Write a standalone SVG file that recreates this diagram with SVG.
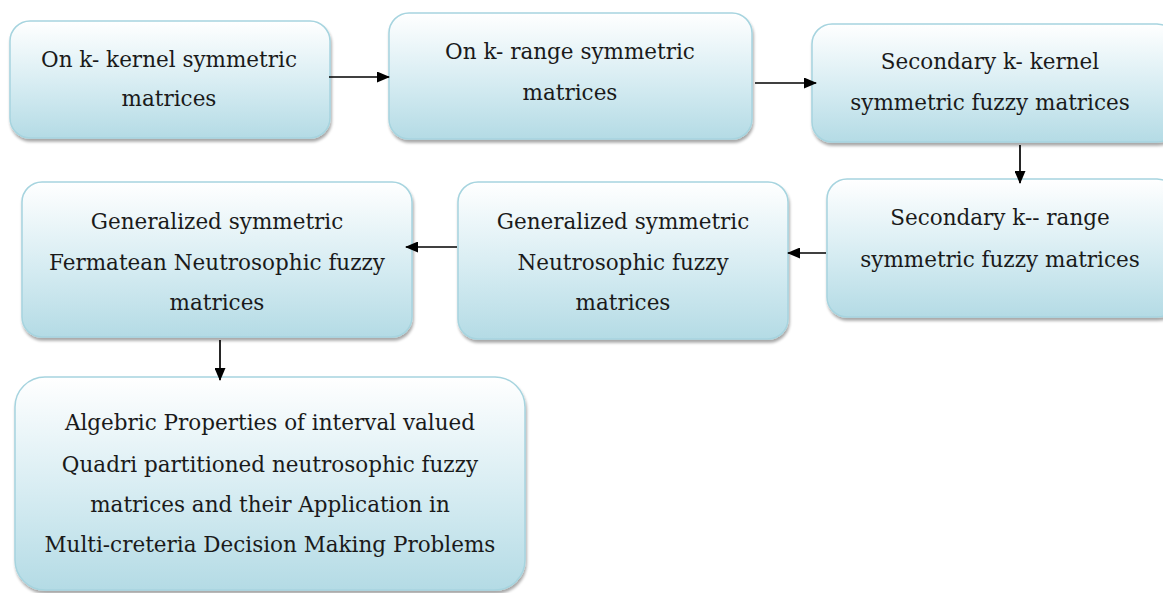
<svg xmlns="http://www.w3.org/2000/svg" width="1163" height="593" viewBox="0 0 1163 593">
<defs>
<linearGradient id="g" x1="0" y1="0" x2="0" y2="1">
<stop offset="0" stop-color="#ffffff"/>
<stop offset="0.55" stop-color="#d6ecf2"/>
<stop offset="1" stop-color="#b4dbe5"/>
</linearGradient>
<filter id="sh" x="-5%" y="-5%" width="115%" height="120%">
<feGaussianBlur in="SourceAlpha" stdDeviation="1.5"/>
<feOffset dx="1" dy="3" result="b"/>
<feComponentTransfer><feFuncA type="linear" slope="0.35"/></feComponentTransfer>
<feMerge><feMergeNode/><feMergeNode in="SourceGraphic"/></feMerge>
</filter>
<marker id="ah" markerWidth="13" markerHeight="11" refX="12" refY="5.5" orient="auto" markerUnits="userSpaceOnUse">
<path d="M0,0 L13,5.5 L0,11 Z" fill="#000"/>
</marker>
</defs>
<style>
.box{fill:url(#g);stroke:#a6d4df;stroke-width:1.5;filter:url(#sh)}
.t{font-family:"DejaVu Serif","Liberation Serif",serif;font-size:21.5px;fill:#1a1a1a;text-anchor:middle}
.c{stroke:#000;stroke-width:1.7;fill:none;marker-end:url(#ah)}
</style>
<rect width="1163" height="593" fill="#fff"/>
<g id="n1"><rect class="box" x="10" y="21" width="320" height="117" rx="20"/>
<text class="t" x="169" y="67">On k- kernel symmetric</text>
<text class="t" x="169" y="106">matrices</text></g>
<g id="n2"><rect class="box" x="389" y="13" width="363" height="126" rx="20"/>
<text class="t" x="570" y="59">On k- range symmetric</text>
<text class="t" x="570" y="100">matrices</text></g>
<g id="n3"><rect class="box" x="812" y="24" width="365" height="118" rx="20"/>
<text class="t" x="990" y="69">Secondary k- kernel</text>
<text class="t" x="990" y="110">symmetric fuzzy matrices</text></g>
<g id="n4"><rect class="box" x="827" y="179" width="350" height="138" rx="20"/>
<text class="t" x="1000" y="225">Secondary k-- range</text>
<text class="t" x="1000" y="267">symmetric fuzzy matrices</text></g>
<g id="n5"><rect class="box" x="458" y="182" width="330" height="157" rx="20"/>
<text class="t" x="623" y="229">Generalized symmetric</text>
<text class="t" x="623" y="270">Neutrosophic fuzzy</text>
<text class="t" x="623" y="310">matrices</text></g>
<g id="n6"><rect class="box" x="22" y="182" width="390" height="155" rx="20"/>
<text class="t" x="217" y="229">Generalized symmetric</text>
<text class="t" x="217" y="270">Fermatean Neutrosophic fuzzy</text>
<text class="t" x="217" y="310">matrices</text></g>
<g id="n7"><rect class="box" x="15" y="377" width="510" height="213" rx="30"/>
<text class="t" x="270" y="430">Algebric Properties of interval valued</text>
<text class="t" x="270" y="472">Quadri partitioned neutrosophic fuzzy</text>
<text class="t" x="270" y="512">matrices and their Application in</text>
<text class="t" x="270" y="552">Multi-creteria Decision Making Problems</text></g>
<g id="connectors">
<line class="c" x1="329" y1="77" x2="389" y2="77"/>
<line class="c" x1="755" y1="83" x2="816" y2="83"/>
<line class="c" x1="1020" y1="145" x2="1020" y2="183"/>
<line class="c" x1="826" y1="253" x2="788" y2="253"/>
<line class="c" x1="457" y1="247" x2="406" y2="247"/>
<line class="c" x1="220" y1="340" x2="220" y2="380"/>
</g>
</svg>
